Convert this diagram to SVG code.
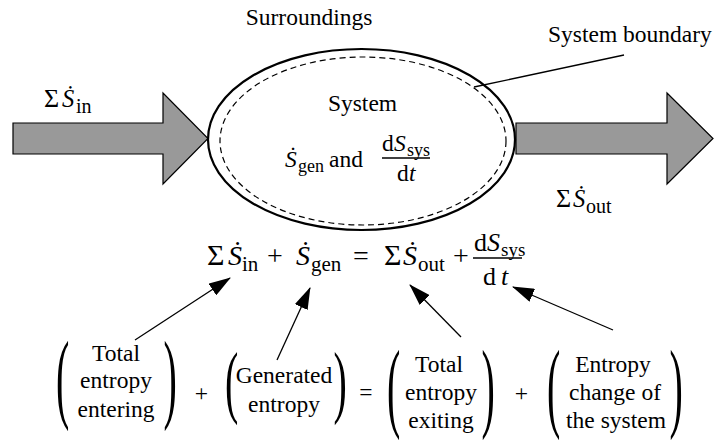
<svg xmlns="http://www.w3.org/2000/svg" width="716" height="441" viewBox="0 0 716 441" font-family="Liberation Serif">
<style>
.t{font-size:23.5px;fill:#000}
.i{font-style:italic}
.sub{font-size:18px}
.lsub{font-size:20px}
.lS{font-size:24.5px}
.eq{font-size:28px}
.fr{font-size:26px}
.esub{font-size:21px}
.fsub{font-size:19px}
.sig{font-size:26px}
.esig{font-size:30px}
.par{font-size:40px}
.blk{fill:#999999;stroke:#000;stroke-width:1.2}
.ln{stroke:#000;stroke-width:1.3;fill:none}
</style>
<defs>
<marker id="ah" markerUnits="userSpaceOnUse" markerWidth="22" markerHeight="14" refX="21" refY="7" orient="auto">
<path d="M0,0 L22,7 L0,14 z" fill="#000"/>
</marker>
</defs>
<rect width="716" height="441" fill="#fff"/>

<g id="surroundings">
<text class="t" font-family="Liberation Serif" x="309" y="25" text-anchor="middle">Surroundings</text>
</g>

<g id="inflow">
<polygon class="blk" points="13,123 163,123 163,93 208,138.5 163,184 163,154 13,154"/>
<text class="t sig" font-family="Liberation Serif" x="44" y="107">Σ</text>
<text class="t lS i" font-family="Liberation Serif" x="62" y="107">Ṡ</text>
<text class="t lsub" font-family="Liberation Serif" x="76" y="113">in</text>
</g>

<g id="outflow">
<polygon class="blk" points="516,123 667,123 667,93 713,138.5 667,184 667,154 516,154"/>
<text class="t sig" font-family="Liberation Serif" x="556" y="207">Σ</text>
<text class="t lS i" font-family="Liberation Serif" x="573" y="207">Ṡ</text>
<text class="t lsub" font-family="Liberation Serif" x="586" y="213">out</text>
</g>

<g id="system">
<ellipse cx="361.5" cy="139.5" rx="153.5" ry="90.5" fill="none" stroke="#000" stroke-width="2.2"/>
<ellipse cx="363" cy="141" rx="143" ry="84" fill="none" stroke="#000" stroke-width="1.2" stroke-dasharray="6,4"/>
<text class="t" font-family="Liberation Serif" x="362.5" y="111" text-anchor="middle">System</text>
<text class="t i" font-family="Liberation Serif" x="285" y="167">Ṡ</text>
<text class="t sub" font-family="Liberation Serif" x="298" y="172">gen</text>
<text class="t" font-family="Liberation Serif" x="329" y="167">and</text>
<text class="t" font-family="Liberation Serif" x="382" y="151">d</text>
<text class="t i" font-family="Liberation Serif" x="394" y="151">S</text>
<text class="t sub" font-family="Liberation Serif" x="407" y="156">sys</text>
<line x1="382" y1="158" x2="430" y2="158" stroke="#000" stroke-width="1.3"/>
<text class="t" font-family="Liberation Serif" x="397" y="181">d</text>
<text class="t i" font-family="Liberation Serif" x="409" y="181">t</text>
</g>

<g id="boundary-label">
<text class="t" font-family="Liberation Serif" x="548" y="42">System boundary</text>
</g>

<g id="equation">
<text class="t esig" font-family="Liberation Serif" x="207" y="265">Σ</text>
<text class="t eq i" font-family="Liberation Serif" x="228" y="265">Ṡ</text>
<text class="t esub" font-family="Liberation Serif" x="242" y="271">in</text>
<text class="t eq" font-family="Liberation Serif" x="267" y="265">+</text>
<text class="t eq i" font-family="Liberation Serif" x="296" y="265">Ṡ</text>
<text class="t esub" font-family="Liberation Serif" x="311" y="271">gen</text>
<text class="t eq" font-family="Liberation Serif" x="353" y="265">=</text>
<text class="t esig" font-family="Liberation Serif" x="384" y="265">Σ</text>
<text class="t eq i" font-family="Liberation Serif" x="403" y="265">Ṡ</text>
<text class="t esub" font-family="Liberation Serif" x="418" y="271">out</text>
<text class="t eq" font-family="Liberation Serif" x="453" y="265">+</text>
<text class="t fr" font-family="Liberation Serif" x="474" y="251">d</text>
<text class="t fr i" font-family="Liberation Serif" x="487" y="251">S</text>
<text class="t fsub" font-family="Liberation Serif" x="501" y="256">sys</text>
<line x1="473" y1="258" x2="522" y2="258" stroke="#000" stroke-width="1.3"/>
<text class="t fr" font-family="Liberation Serif" x="483" y="285">d</text>
<text class="t fr i" font-family="Liberation Serif" x="501" y="285">t</text>
</g>

<g id="term-in">
<text class="t par" font-family="Liberation Serif" transform="translate(56,410.4) scale(1,2.49)">(</text>
<text class="t" font-family="Liberation Serif" x="116" y="361" text-anchor="middle">Total</text>
<text class="t" font-family="Liberation Serif" x="116" y="388" text-anchor="middle">entropy</text>
<text class="t" font-family="Liberation Serif" x="116" y="417" text-anchor="middle">entering</text>
<text class="t par" font-family="Liberation Serif" transform="translate(163.6,410.4) scale(1,2.49)">)</text>
</g>
<text class="t" font-family="Liberation Serif" x="201.5" y="401" text-anchor="middle">+</text>

<g id="term-gen">
<text class="t par" font-family="Liberation Serif" transform="translate(225,407.7) scale(1,2.02)">(</text>
<text class="t" font-family="Liberation Serif" x="284" y="383" text-anchor="middle">Generated</text>
<text class="t" font-family="Liberation Serif" x="284" y="412" text-anchor="middle">entropy</text>
<text class="t par" font-family="Liberation Serif" transform="translate(333.6,407.7) scale(1,2.02)">)</text>
</g>
<text class="t" font-family="Liberation Serif" x="366" y="400" text-anchor="middle">=</text>

<g id="term-out">
<text class="t par" font-family="Liberation Serif" transform="translate(387,419.4) scale(1,2.49)">(</text>
<text class="t" font-family="Liberation Serif" x="439" y="372" text-anchor="middle">Total</text>
<text class="t" font-family="Liberation Serif" x="441" y="400" text-anchor="middle">entropy</text>
<text class="t" font-family="Liberation Serif" x="441" y="428" text-anchor="middle">exiting</text>
<text class="t par" font-family="Liberation Serif" transform="translate(481.6,419.4) scale(1,2.49)">)</text>
</g>
<text class="t" font-family="Liberation Serif" x="521.5" y="401" text-anchor="middle">+</text>

<g id="term-sys">
<text class="t par" font-family="Liberation Serif" transform="translate(547,419.4) scale(1,2.49)">(</text>
<text class="t" font-family="Liberation Serif" x="613" y="372" text-anchor="middle">Entropy</text>
<text class="t" font-family="Liberation Serif" x="615" y="400" text-anchor="middle">change of</text>
<text class="t" font-family="Liberation Serif" x="616" y="428" text-anchor="middle">the system</text>
<text class="t par" font-family="Liberation Serif" transform="translate(669.6,419.4) scale(1,2.49)">)</text>
</g>

<g id="connectors">
<line class="ln" x1="624" y1="55" x2="474" y2="87"/>
<line class="ln" x1="135" y1="340" x2="230" y2="278" marker-end="url(#ah)"/>
<line class="ln" x1="277" y1="360" x2="310" y2="288" marker-end="url(#ah)"/>
<line class="ln" x1="461" y1="337" x2="410" y2="285" marker-end="url(#ah)"/>
<line class="ln" x1="613" y1="330" x2="513" y2="287" marker-end="url(#ah)"/>
</g>
</svg>
